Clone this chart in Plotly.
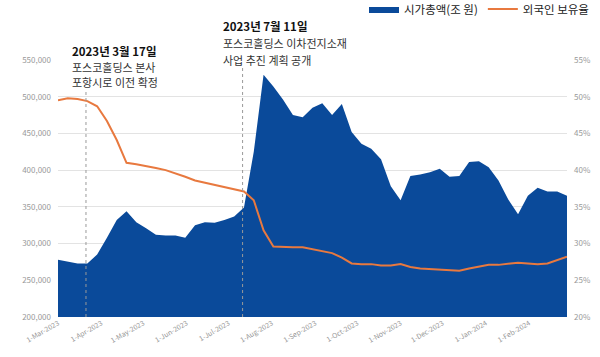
import pandas as pd
import plotly.graph_objects as go

dates = pd.date_range("2023-03-01", periods=53, freq="7D")

market_cap = [
    278000, 276000, 273000, 273000, 285000, 308000, 332000, 344000, 329000, 321000,
    312000, 311000, 311000, 308000, 325000, 329000, 328500, 332000, 337000, 349000,
    425000, 530000, 514000, 496000, 475000, 472000, 485000, 491000, 475000, 490000,
    452000, 436000, 429000, 415000, 378000, 359000, 392000, 394000, 397000, 402000,
    391000, 392000, 411000, 412000, 404000, 386000, 360000, 340000, 365000, 376000,
    371000, 371000, 365000,
]

foreign_ratio = [
    49.5, 49.8, 49.7, 49.4, 48.7, 46.7, 44.1, 41.0, 40.8, 40.6,
    40.3, 40.0, 39.6, 39.1, 38.6, 38.3, 38.0, 37.7, 37.4, 37.1,
    35.9, 31.8, 29.6, 29.5, 29.5, 29.5, 29.2, 29.0, 28.7, 28.1,
    27.3, 27.2, 27.2, 27.0, 27.0, 27.2, 26.8, 26.6, 26.5, 26.4,
    26.3, 26.3, 26.6, 26.9, 27.1, 27.1, 27.2, 27.4, 27.3, 27.2,
    27.3, 27.7, 28.2,
]

series_names = ["시가총액(조 원)", "외국인 보유율"]
event_dates = ["2023-03-21", "2023-07-11"]
event_titles = ["2023년 3월 17일", "2023년 7월 11일"]
event_lines = [["포스코홀딩스 본사", "포항시로 이전 확정"],
               ["포스코홀딩스 이차전지소재", "사업 추진 계획 공개"]]

FONT = "Noto Sans CJK KR"
BLUE = "#0A4A9A"
ORANGE = "#E8793F"

fig = go.Figure()
fig.add_trace(go.Scatter(
    x=dates, y=market_cap, name=series_names[0], mode="lines",
    line=dict(width=0, color=BLUE), fill="tozeroy", fillcolor=BLUE,
))
fig.add_trace(go.Scatter(
    x=dates, y=foreign_ratio, name=series_names[1], mode="lines",
    line=dict(width=2, color=ORANGE), yaxis="y2",
))

# plot-area geometry in pixels
L, R, T, B = 58, 567, 60, 317.3
W, H = R - L, B - T
px = lambda x: (x - L) / W
py = lambda y: (B - y) / H

ann_pos = [(70, [50.5, 66.7, 81.7]), (221, [25.7, 43.3, 60.0])]
shapes = []
annotations = []
for i, (xp, ys) in enumerate(ann_pos):
    annotations.append(dict(
        xref="paper", yref="paper", x=px(xp), y=py(ys[0]), xanchor="left", yanchor="middle",
        text="<b>" + event_titles[i] + "</b>", showarrow=False,
        font=dict(family=FONT, size=11.5, color="#111"),
    ))
    for j, t in enumerate(event_lines[i]):
        annotations.append(dict(
            xref="paper", yref="paper", x=px(xp), y=py(ys[j + 1]), xanchor="left", yanchor="middle",
            text=t, showarrow=False, font=dict(family=FONT, size=11, color="#333"),
        ))

for x0, x1 in [(68, 163), (218, 352)]:
    shapes.append(dict(type="rect", xref="paper", yref="paper", x0=px(x0), x1=px(x1),
                       y0=py(64), y1=py(55), fillcolor="white", line=dict(width=0), layer="above"))

for d, ytop in zip(event_dates, [90, 68]):
    shapes.append(dict(type="line", xref="x", yref="paper", x0=d, x1=d, y0=0, y1=py(ytop),
                       line=dict(color="#9a9a9a", width=1, dash="dot"), layer="above"))

FW, FH = 600, 357
fig.update_layout(
    width=FW, height=FH,
    margin=dict(l=L, r=FW - R, t=T, b=FH - B, autoexpand=False),
    paper_bgcolor="white", plot_bgcolor="white",
    font=dict(family=FONT, color="#333"),
    showlegend=True,
    legend=dict(orientation="h", x=px(594), xanchor="right", y=py(9), yanchor="middle",
                font=dict(family=FONT, size=11.5, color="#222"), itemwidth=30,
                bgcolor="rgba(0,0,0,0)"),
    xaxis=dict(
        type="date", range=[dates[0], dates[-1]], automargin=False,
        tickformat="%-d-%b-%Y", dtick="M1", tick0="2023-03-01",
        tickangle=-30, tickfont=dict(size=7, color="#999"),
        showgrid=False, showline=False, zeroline=False, ticks="",
    ),
    yaxis=dict(
        range=[200000, 550000], dtick=50000, tickformat=",", automargin=False,
        tickfont=dict(size=8, color="#999"), gridcolor="#e3e3e3", gridwidth=1,
        zeroline=False, showline=False, ticks="", ticklabelstandoff=6,
    ),
    yaxis2=dict(
        overlaying="y", side="right", range=[20, 55], dtick=5, ticksuffix="%", automargin=False,
        tickfont=dict(size=8, color="#999"), showgrid=False, zeroline=False, showline=False,
        ticklabelstandoff=6,
    ),
    shapes=shapes,
    annotations=annotations,
)

fig.write_html("out.html", config={"displayModeBar": False},
               post_script="document.body.style.margin='0px';")
